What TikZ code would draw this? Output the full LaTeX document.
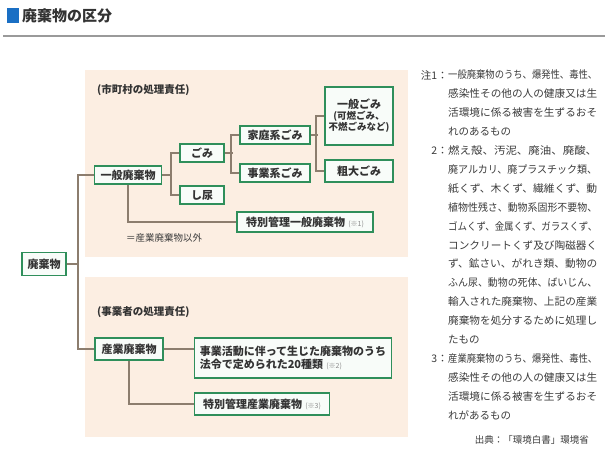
\documentclass[tikz,border=0pt]{standalone}
\usepackage{fontspec}
\usepackage{graphicx}
\setmainfont{Noto Sans CJK JP}
\definecolor{panelbg}{HTML}{FCEEE2}
\definecolor{boxgreen}{HTML}{2F8F5B}
\definecolor{boxfill}{HTML}{F8FCF9}
\definecolor{linecol}{HTML}{8C7D6E}
\definecolor{txt}{HTML}{333333}
\definecolor{notetxt}{HTML}{3C3C3C}
\definecolor{reftxt}{HTML}{8A8A8A}
\definecolor{titleblue}{HTML}{1A6FC4}
\definecolor{rulegray}{HTML}{9A9A9A}
\newcommand\jline[1]{\resizebox{149pt}{\height}{#1}}
\newcommand\smallref[1]{\textcolor{reftxt}{\fontsize{7}{8}\selectfont\mdseries\ \ (#1)}}
\begin{document}
\begin{tikzpicture}[x=1pt,y=-1pt,
  wbox/.style={draw=boxgreen,line width=1.7pt,fill=boxfill,inner sep=1pt,
    font=\fontsize{11}{13}\selectfont\bfseries,text=txt,minimum height=18pt},
  conn/.style={draw=linecol,line width=1.4pt},
  paneltitle/.style={anchor=west,inner sep=0pt,text=txt,font=\fontsize{10.5}{12}\selectfont\bfseries},
  note/.style={anchor=west,inner sep=0pt,text=notetxt,font=\fontsize{10.5}{12}\selectfont},
  notelabel/.style={anchor=east,inner sep=0pt,text=notetxt,font=\fontsize{10.5}{12}\selectfont}]
\useasboundingbox (0,0) rectangle (608,455);
\fill[white] (0,0) rectangle (608,455);
% title
\fill[titleblue] (7,8) rectangle (19,23);
\node[anchor=west,inner sep=0pt,text=txt,font=\fontsize{15}{17}\selectfont\bfseries] (title) at (22,15.5) {廃棄物の区分};
\draw[rulegray,line width=2pt] (3,36) -- (605,36);
% panels
\fill[panelbg] (85,70) rectangle (408,257);
\fill[panelbg] (85,277) rectangle (408,437);
\node[paneltitle] (resp1) at (97,90) {(市町村の処理責任)};
\node[paneltitle] (resp2) at (97,312) {(事業者の処理責任)};
% nodes
\node[wbox,minimum width=44pt,minimum height=23pt] (haiki) at (44,264) {廃棄物};
\node[wbox,minimum width=67pt] (ippan) at (128,175) {一般廃棄物};
\node[wbox,minimum width=44pt] (gomi) at (202,153) {ごみ};
\node[wbox,minimum width=44pt] (shinyo) at (202,195) {し尿};
\node[wbox,minimum width=70pt] (katei) at (275,135) {家庭系ごみ};
\node[wbox,minimum width=70pt] (jigyo) at (275,173) {事業系ごみ};
\node[wbox,minimum width=68pt,minimum height=58pt,align=center] (ippangomi) at (359,116)
  {一般ごみ\\[-2pt]{\fontsize{9.5}{11}\selectfont (可燃ごみ、}\\[-2pt]{\fontsize{9.5}{11}\selectfont 不燃ごみなど)}};
\node[wbox,minimum width=68pt,minimum height=22pt] (sodai) at (359,171) {粗大ごみ};
\node[wbox,minimum width=136pt,minimum height=20pt] (toku1) at (305,222) {特別管理一般廃棄物\smallref{※1}};
\node[anchor=west,inner sep=0pt,text=notetxt,font=\fontsize{9.5}{11}\selectfont] (igai) at (126,237.5) {＝産業廃棄物以外};
\node[wbox,minimum width=68pt,minimum height=22pt] (sangyo) at (129,349) {産業廃棄物};
\node[wbox,minimum width=197pt,minimum height=40pt,align=left] (katsudo) at (293,358)
  {事業活動に伴って生じた廃棄物のうち\\法令で定められた20種類\smallref{※2}};
\node[wbox,minimum width=135pt,minimum height=22pt] (toku3) at (262,404) {特別管理産業廃棄物\smallref{※3}};
% connectors
\coordinate (trunk) at (78,0);
\draw[conn] (haiki.east) -- (haiki.east -| trunk);
\draw[conn] (ippan.west) -- (ippan.west -| trunk) |- (sangyo.west);
\draw[conn] (ippan.east) -- ++(10,0);
\draw[conn] (gomi.west) -- ++(-8,0) |- (shinyo.west);
\draw[conn] (gomi.east) -- ++(8,0);
\draw[conn] (katei.west) -- ++(-8,0) |- (jigyo.west);
\draw[conn] (katei.east) -- ++(7,0);
\draw[conn] (ippangomi.west) -- ++(-8,0) |- (sodai.west);
\draw[conn] (ippan.south) |- (toku1.west);
\draw[conn] (sangyo.east) -- (sangyo.east -| katsudo.west);
\draw[conn] (sangyo.south) |- (toku3.west);
% notes
\node[notelabel] (n1) at (448,75) {注1：};
\node[note] (l0) at (448,75.0) {\jline{一般廃棄物のうち、爆発性、毒性、}};
\node[note] (l1) at (448,93.9) {\jline{感染性その他の人の健康又は生}};
\node[note] (l2) at (448,112.8) {\jline{活環境に係る被害を生ずるおそ}};
\node[note] (l3) at (448,131.7) {れのあるもの};
\node[notelabel] (n2) at (448,150.6) {2：};
\node[note] (l4) at (448,150.6) {\jline{燃え殻、汚泥、廃油、廃酸、}};
\node[note] (l5) at (448,169.5) {\jline{廃アルカリ、廃プラスチック類、}};
\node[note] (l6) at (448,188.4) {\jline{紙くず、木くず、繊維くず、動}};
\node[note] (l7) at (448,207.3) {\jline{植物性残さ、動物系固形不要物、}};
\node[note] (l8) at (448,226.2) {\jline{ゴムくず、金属くず、ガラスくず、}};
\node[note] (l9) at (448,245.1) {\jline{コンクリートくず及び陶磁器く}};
\node[note] (l10) at (448,264.0) {\jline{ず、鉱さい、がれき類、動物の}};
\node[note] (l11) at (448,282.9) {\jline{ふん尿、動物の死体、ばいじん、}};
\node[note] (l12) at (448,301.8) {\jline{輸入された廃棄物、上記の産業}};
\node[note] (l13) at (448,320.7) {\jline{廃棄物を処分するために処理し}};
\node[note] (l14) at (448,339.6) {たもの};
\node[notelabel] (n3) at (448,358.5) {3：};
\node[note] (l15) at (448,358.5) {\jline{産業廃棄物のうち、爆発性、毒性、}};
\node[note] (l16) at (448,377.4) {\jline{感染性その他の人の健康又は生}};
\node[note] (l17) at (448,396.3) {\jline{活環境に係る被害を生ずるおそ}};
\node[note] (l18) at (448,415.2) {れがあるもの};
\node[anchor=east,inner sep=0pt,text=notetxt,font=\fontsize{9.5}{11}\selectfont] (src) at (589,440) {出典：「環境白書」環境省};
\end{tikzpicture}
\end{document}
